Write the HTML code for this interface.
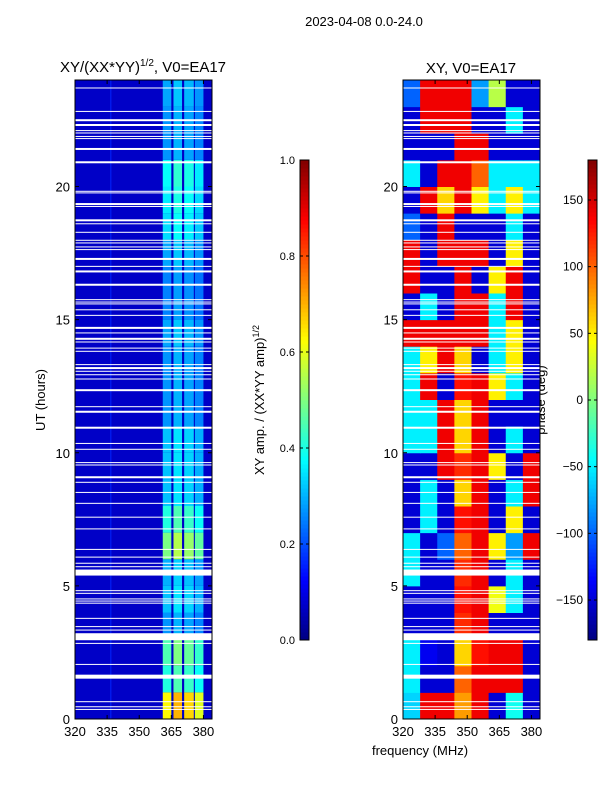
<!DOCTYPE html>
<html><head><meta charset="utf-8"><style>
body{margin:0;background:#fff;width:600px;height:800px;overflow:hidden}
svg{display:block;font-family:"Liberation Sans",sans-serif}
</style></head><body>
<svg id="chart" width="600" height="800">
<text x="364" y="26" font-size="13" text-anchor="middle">2023-04-08 0.0-24.0</text>
<text x="143" y="72" font-size="15" text-anchor="middle">XY/(XX*YY)<tspan font-size="10" dy="-6">1/2</tspan><tspan dy="6">, V0=EA17</tspan></text>
<text x="471" y="73" font-size="15" text-anchor="middle">XY, V0=EA17</text>
<text transform="translate(45,400) rotate(-90)" font-size="13" text-anchor="middle">UT (hours)</text>
<text transform="translate(264,400) rotate(-90)" font-size="13" text-anchor="middle">XY amp. / (XX*YY amp)<tspan font-size="9" dy="-5">1/2</tspan></text>
<text transform="translate(545,400) rotate(-90)" font-size="13" text-anchor="middle">phase (deg)</text>
<text x="420" y="755" font-size="13" text-anchor="middle">frequency (MHz)</text>
<g id="layer"></g>
</svg>
<script>
// ---- data ----
const hours=[0,1,2,3,4,5,6,7,8,9,10,11,12,13,14,15,16,17,18,19,20,21,22,23];
const ampBandFreqs=[[361,365],[366,370],[371,375.5],[376,380]];
const ampBandGain=[0.9,1.0,0.95,0.85];
const ampRowGain=[0.7,0.45,0.5,0.3,0.35,0.33,0.55,0.45,0.35,0.35,0.35,0.3,0.3,0.3,0.32,0.28,0.28,0.32,0.38,0.4,0.42,0.3,0.3,0.32];
const ampBackground=0.07;
const phaseFreqs=[320,328,336,344,352,360,368,376];
const phaseVals=[
[-60,140,140,80,140,-150,-40,-150],
[-50,-150,-150,100,140,140,140,-150],
[-50,-140,-150,60,130,140,140,-150],
[-150,-150,-150,120,140,-150,-150,-150],
[-150,-150,-150,130,140,40,-50,-150],
[-50,-150,-150,120,140,-150,-50,-150],
[-50,-150,-100,100,140,50,-80,140],
[-150,-50,-150,130,140,-150,50,-150],
[-150,-50,-150,60,140,-150,-50,140],
[-150,-150,140,120,140,50,-150,140],
[-50,-50,140,60,140,-150,-50,-150],
[-50,-50,140,60,140,-150,-150,-150],
[-50,140,-150,130,140,50,-50,-150],
[-50,50,140,60,-150,-50,50,-150],
[140,140,140,140,140,-50,50,-150],
[-150,-50,-150,140,140,-50,140,-150],
[140,-150,-150,140,-150,50,140,-150],
[140,-150,140,140,140,-150,50,-150],
[-100,-150,140,-150,-150,-150,-50,-150],
[-150,140,60,140,50,-50,50,-50],
[-50,-150,140,140,100,-50,-50,-50],
[-150,-150,-150,140,140,-150,-150,-150],
[-150,140,140,140,-150,-150,-50,-150],
[-100,140,140,140,-80,20,-150,-150]];
const gapHours=[23.70,22.82,22.49,22.31,22.10,22.01,21.88,21.80,21.41,20.91,19.82,19.76,19.34,19.25,18.73,18.60,18.28,17.98,17.88,17.73,17.63,17.28,17.00,16.81,16.31,15.75,15.66,15.59,15.37,15.16,14.69,14.50,14.28,14.16,13.93,13.81,13.31,13.18,13.06,12.93,12.77,12.35,11.73,11.54,10.94,10.35,10.13,9.63,9.54,9.08,8.89,8.51,8.10,7.58,7.14,6.37,6.08,5.85,5.72,5.50,4.82,4.72,4.51,4.43,4.35,3.78,3.47,3.34,3.09,2.84,2.05,1.59,0.65,0.46,0.36];
const gapWidths=[1,1,2,2,1,1,1,1,2,2,1,1,2,1,2,1,1,1,1,1,1,2,1,2,2,1,1,1,1,1,2,1,2,1,1,1,1,2,1,1,1,2,1,2,2,1,1,1,1,2,1,1,1,1,1,1,1,1,1,6,1,1,1,1,1,1,1,1,7,1,1,4,1,1,1];
const xTicks=[320,335,350,365,380];
const yTicks=[0,5,10,15,20];
const ampTicks=[0,0.2,0.4,0.6,0.8,1.0];
const phaseTicks=[-150,-100,-50,0,50,100,150];

// ---- helpers ----
const NS='http://www.w3.org/2000/svg';
const layer=document.getElementById('layer');
function mk(tag,attrs,parent){const e=document.createElementNS(NS,tag);for(const k in attrs)e.setAttribute(k,attrs[k]);(parent||layer).appendChild(e);return e;}
function jet(v){v=Math.max(0,Math.min(1,v));
 const r=Math.max(0,Math.min(1,1.5-Math.abs(4*v-3))),g=Math.max(0,Math.min(1,1.5-Math.abs(4*v-2))),b=Math.max(0,Math.min(1,1.5-Math.abs(4*v-1)));
 return `rgb(${Math.round(r*255)},${Math.round(g*255)},${Math.round(b*255)})`;}
const Y0=80,Y1=719;
const yS=h=>Y1-(h/24)*(Y1-Y0);
function xS(px0,px1){return f=>px0+(f-320)/64*(px1-px0);}
const panels=[{x0:75,x1:212,name:'amp'},{x0:403,x1:540,name:'phase'}];

// left panel
const xl=xS(75,212);
let g=mk('g',{});

mk('rect',{x:75,y:Y0,width:137,height:Y1-Y0,fill:jet(ampBackground)},g);
mk('rect',{x:xl(336.5),y:Y0,width:1,height:Y1-Y0,fill:jet(0.16)},g);
hours.forEach((h,r)=>{ampBandFreqs.forEach((b,i)=>{
 const c=mk('rect',{x:xl(b[0]),y:yS(h+1),width:xl(b[1])-xl(b[0]),height:yS(h)-yS(h+1),fill:jet(ampRowGain[r]*ampBandGain[i])},g);
 
 
});});
// right panel
const xr=xS(403,540);
g=mk('g',{});

hours.forEach((h,r)=>{phaseFreqs.forEach((f,i)=>{
 const c=mk('rect',{x:xr(f),y:yS(h+1),width:xr(f+8)-xr(f)+0.5,height:yS(h)-yS(h+1)+0.5,fill:jet((phaseVals[r][i]+180)/360)},g);
 
 
});});
// gaps
panels.forEach(p=>{gapHours.forEach((h,i)=>{
 const e=mk('rect',{x:p.x0,y:yS(h)-gapWidths[i]/2,width:p.x1-p.x0,height:gapWidths[i],fill:'#fff'});
 
 
});});
// axes
panels.forEach(p=>{
 const fr=mk('rect',{x:p.x0,y:Y0,width:p.x1-p.x0,height:Y1-Y0,fill:'none',stroke:'#000','stroke-width':1});
 
 const xs=xS(p.x0,p.x1);
 xTicks.forEach(t=>{const x=xs(t);
  mk('line',{x1:x,x2:x,y1:Y1,y2:Y1-4,stroke:'#000'});mk('line',{x1:x,x2:x,y1:Y0,y2:Y0+4,stroke:'#000'});
  const tx=mk('text',{x:x,y:Y1+17,'font-size':13,'text-anchor':'middle'});tx.textContent=t;
  });
 yTicks.forEach(t=>{const y=yS(t);
  mk('line',{x1:p.x0,x2:p.x0+4,y1:y,y2:y,stroke:'#000'});mk('line',{x1:p.x1,x2:p.x1-4,y1:y,y2:y,stroke:'#000'});
  const tx=mk('text',{x:p.x0-5,y:y+5,'font-size':13,'text-anchor':'end'});tx.textContent=t;
  });
});
// colorbars
function cbar(x,lo,hi,ticks,name,fmt){
 const cy0=160,cy1=640;
 const gg=mk('g',{});
 for(let i=0;i<120;i++){mk('rect',{x:x,y:cy1-(i+1)*4,width:9,height:4.5,fill:jet((i+0.5)/120)},gg);}
 mk('rect',{x:x,y:cy0,width:9,height:cy1-cy0,fill:'none',stroke:'#000'},gg);
 ticks.forEach(t=>{const y=cy1-(t-lo)/(hi-lo)*(cy1-cy0);
  mk('line',{x1:x,x2:x+3,y1:y,y2:y,stroke:'#000'},gg);mk('line',{x1:x+9,x2:x+6,y1:y,y2:y,stroke:'#000'},gg);
  const tx=mk('text',{x:x-5,y:y+4,'font-size':fmt?11:12,'text-anchor':'end'},gg);tx.textContent=fmt?t.toFixed(1):(t<0?'\u2212'+(-t):t);
  });
}
cbar(300,0,1,ampTicks,'amp-colorbar',true);
cbar(588,-180,180,phaseTicks,'phase-colorbar',false);
</script>
</body></html>
